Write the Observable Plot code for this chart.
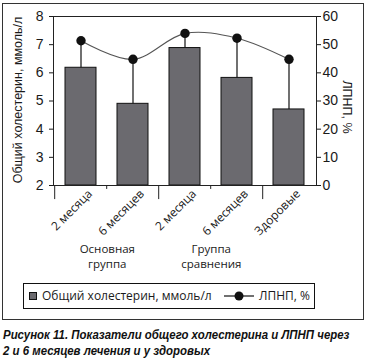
<!DOCTYPE html>
<html>
<head>
<meta charset="utf-8">
<script src="https://cdn.jsdelivr.net/npm/d3@7"></script>
<script src="https://cdn.jsdelivr.net/npm/@observablehq/plot@0.6"></script>
<style>
  body { margin: 0; background: #fff; }
  #wrap { position: relative; width: 366px; height: 360px; background: #fff; overflow: hidden; color: #1a1a1a; }
  #outer { position: absolute; left: 2px; top: 3px; width: 362px; height: 317px; border: 1px solid #333; box-sizing: border-box; }
  #chart { position: absolute; left: 0; top: 0; }
  #legend { position: absolute; left: 23px; top: 283px; width: 292px; height: 26px; border: 1px solid #111; box-sizing: border-box; font-family: "Open Sans", sans-serif; font-size: 12px; }
  .lg-text { position: absolute; top: 3px; line-height: 18px; white-space: nowrap; }
  #sw { position: absolute; left: 5px; top: 8px; width: 8px; height: 8px; background: #6b6a6f; border: 1px solid #111; box-sizing: border-box; }
  #caption { position: absolute; left: 3px; top: 327px; font-family: "Liberation Sans", sans-serif; font-weight: bold; font-style: italic; font-size: 12.5px; line-height: 16px; color: #111; white-space: nowrap; transform: scaleX(0.915); transform-origin: 0 0; }
</style>
</head>
<body>
<div id="wrap">
  <div id="outer"></div>
  <div id="chart"></div>
  <div id="legend"></div>
  <div id="caption"></div>
</div>
<script>
const categories = ["2 месяца", "6 месяцев", "2 месяца", "6 месяцев", "Здоровые"];
const groups = ["Основная\nгруппа", "Основная\nгруппа", "Группа\nсравнения", "Группа\nсравнения", ""];
const cholesterol = [6.18, 4.9, 6.88, 5.82, 4.7];
const cholesterolUpper = [7.14, 6.48, 7.4, 7.23, 6.48];
const ldl = [51.4, 44.8, 54.0, 52.3, 44.8];
const leftTicks = [2, 3, 4, 5, 6, 7, 8];
const rightTicks = [0, 10, 20, 30, 40, 50, 60];
const yLabel = "Общий холестерин, ммоль/л";
const y2Label = "ЛПНП, %";
const legendLabels = ["Общий холестерин, ммоль/л", "ЛПНП, %"];
const captionLines = ["Рисунок 11. Показатели общего холестерина и ЛПНП через", "2 и 6 месяцев лечения и у здоровых"];

const index = d3.range(categories.length);
const isGroupStart = i => i === 0 || groups[i] !== groups[i - 1];
const groupStarts = index.filter(i => groups[i] && isGroupStart(i));
const toLeft = v => 2 + v / 10;           // ЛПНП % -> left axis units
const half = 26.3;                         // half band step (px)

const chart = Plot.plot({
  width: 366,
  height: 270,
  marginTop: 16,
  marginBottom: 85,
  marginLeft: 53,
  marginRight: 50,
  x: { type: "band", domain: index, paddingInner: 0.4, paddingOuter: 0.2, axis: null },
  y: { domain: [2, 8], axis: null },
  style: { fontFamily: "Liberation Sans, sans-serif", fontSize: "14px", color: "#1a1a1a", background: "transparent", overflow: "visible" },
  marks: [
    Plot.barY(index, { x: d => d, y1: 2, y2: i => cholesterol[i], fill: "#6b6a6f", stroke: "#111", strokeWidth: 1 }),
    Plot.ruleX(index, { x: d => d, y1: i => cholesterol[i], y2: i => cholesterolUpper[i], stroke: "#111", strokeWidth: 1.2 }),
    Plot.line(index, { x: d => d, y: i => toLeft(ldl[i]), curve: "catmull-rom", stroke: "#555", strokeWidth: 1.1 }),
    Plot.dot(index, { x: d => d, y: i => toLeft(ldl[i]), r: 4.7, fill: "#111", stroke: "none" }),
    Plot.frame({ stroke: "#222", strokeWidth: 1 }),
    Plot.axisY(leftTicks, { anchor: "left", tickSize: 4, tickPadding: 6, tickFormat: d => String(d), label: null, fontSize: 14 }),
    Plot.axisY(rightTicks.map(toLeft), { anchor: "right", tickSize: 4, tickPadding: 2, tickFormat: d => String(Math.round((d - 2) * 10)), label: null, fontSize: 14 }),
    Plot.ruleX(index, { x: d => d, y1: 2, y2: i => isGroupStart(i) ? 1.5 : 1.86, dx: -half, stroke: "#222", strokeWidth: 1 }),
    Plot.text(index, { x: d => d, frameAnchor: "bottom", text: i => categories[i], rotate: -45, textAnchor: "end", dx: 12, dy: 9, fontFamily: "Open Sans, sans-serif", fontSize: 12, fill: "#1a1a1a" }),
    Plot.text(groupStarts, { x: d => d, frameAnchor: "bottom", text: i => groups[i], textAnchor: "middle", lineAnchor: "middle", dx: half, dy: 70, lineHeight: 1.33, fontFamily: "Open Sans, sans-serif", fontSize: 11.5, fill: "#1a1a1a" }),
    Plot.text([yLabel], { frameAnchor: "left", text: d => d, rotate: -90, textAnchor: "middle", lineAnchor: "middle", dx: -35.5, dy: -1, fontFamily: "Liberation Sans, sans-serif", fontSize: 12.5, fill: "#1a1a1a" }),
    Plot.text([y2Label], { frameAnchor: "right", text: d => d, rotate: 90, textAnchor: "middle", lineAnchor: "middle", dx: 30, dy: 6, fontFamily: "Liberation Sans, sans-serif", fontSize: 12.5, fill: "#1a1a1a" })
  ]
});
document.getElementById("chart").append(chart);

// Legend
const legend = document.getElementById("legend");
legend.innerHTML = `
  <div id="sw"></div>
  <div class="lg-text" style="left:18px">${legendLabels[0]}</div>
  <svg style="position:absolute;left:199px;top:0" width="32" height="24">
    <line x1="1" x2="31" y1="12" y2="12" stroke="#111" stroke-width="1.2"/>
    <circle cx="16" cy="12" r="4.5" fill="#111"/>
  </svg>
  <div class="lg-text" style="left:235px">${legendLabels[1]}</div>`;

document.getElementById("caption").innerHTML = captionLines.join("<br>");
</script>
</body>
</html>
